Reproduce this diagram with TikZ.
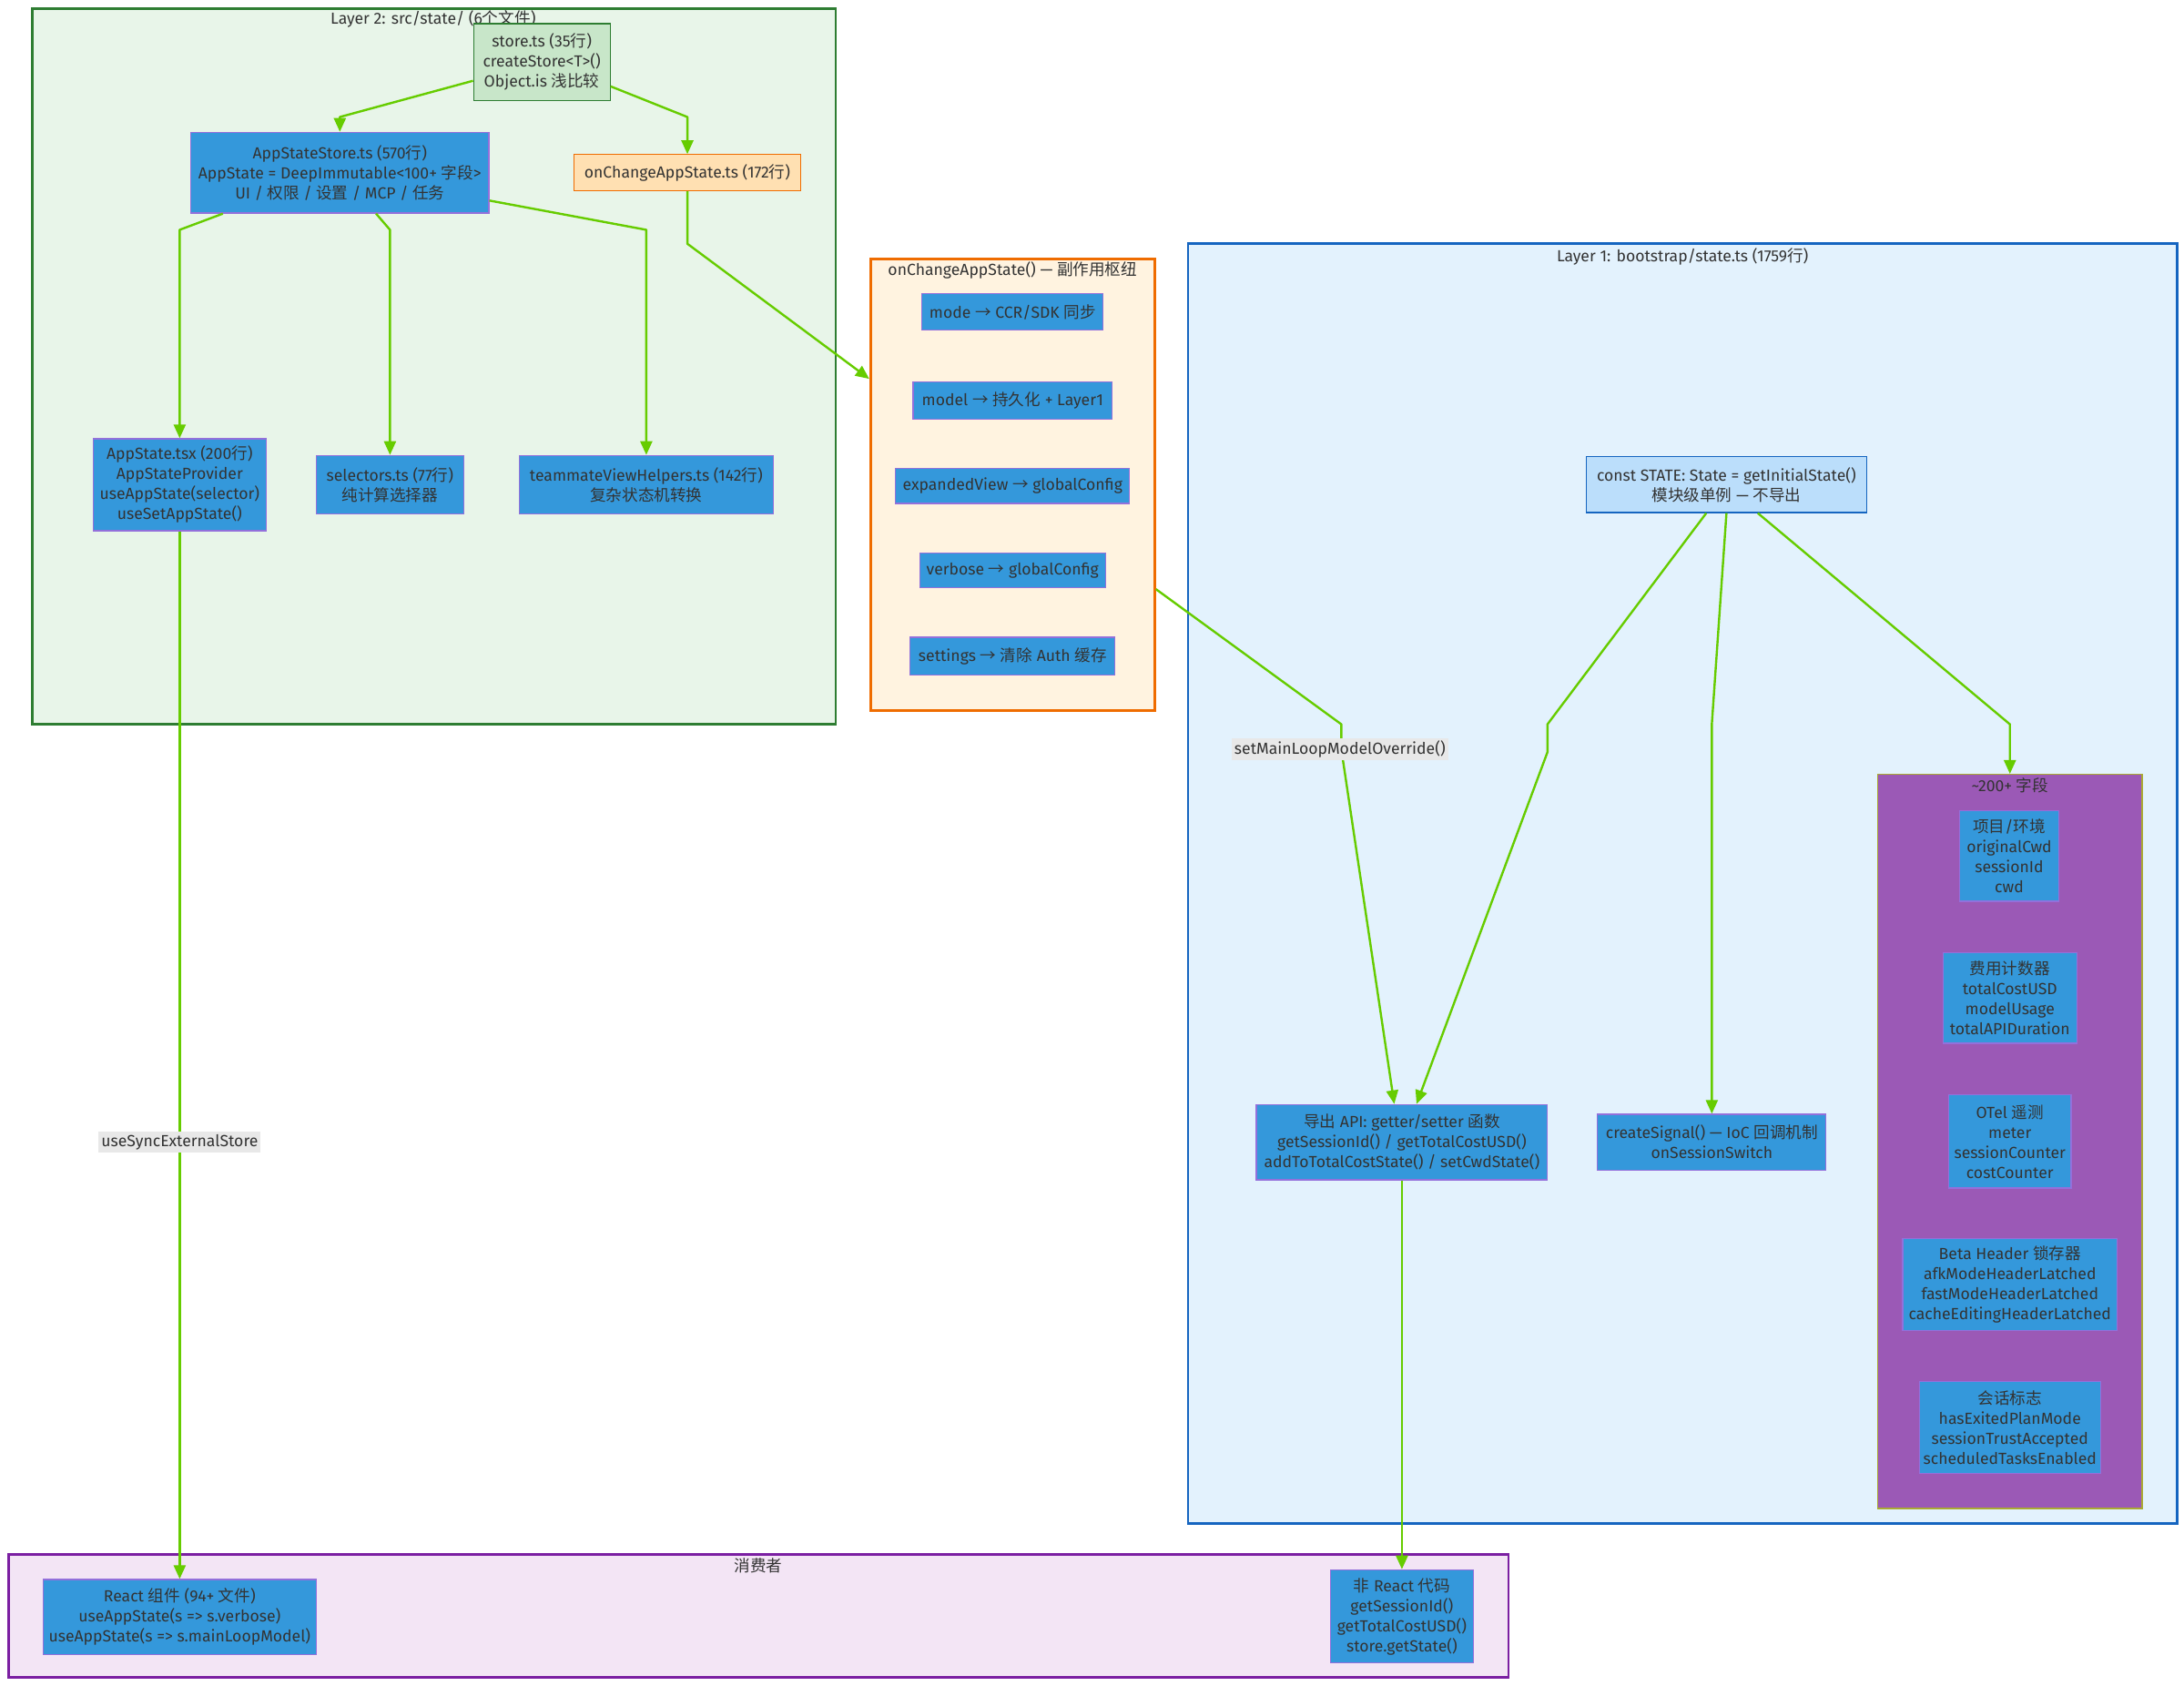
\documentclass[tikz,border=0pt]{standalone}
\usepackage{fontspec}
\setmainfont{Fira Sans}
\newfontfamily\cjk{Noto Sans CJK SC}[Scale=1.0]
\newcommand\zh[1]{{\cjk #1}}
\newcommand\ar{{\cjk →}}
\usetikzlibrary{arrows.meta,calc}
\definecolor{txt}{HTML}{333333}
\definecolor{l2fill}{HTML}{E8F5E9}
\definecolor{l2line}{HTML}{2E7D32}
\definecolor{storefill}{HTML}{C8E6C9}
\definecolor{bluefill}{HTML}{3498DB}
\definecolor{blueline}{HTML}{9370DB}
\definecolor{orfill}{HTML}{FFE0B2}
\definecolor{orline}{HTML}{EF6C00}
\definecolor{ocfill}{HTML}{FFF3E0}
\definecolor{l1fill}{HTML}{E3F2FD}
\definecolor{l1line}{HTML}{1565C0}
\definecolor{statefill}{HTML}{BBDEFB}
\definecolor{fieldfill}{HTML}{9B59B6}
\definecolor{fieldline}{HTML}{AAAA33}
\definecolor{consfill}{HTML}{F3E5F5}
\definecolor{consline}{HTML}{7B1FA2}
\definecolor{edgec}{HTML}{66CC00}
\definecolor{lblbg}{HTML}{E8E8E8}
\tikzset{
  nd/.style={rectangle, draw=blueline, fill=bluefill, line width=0.6pt, text=txt, align=center, inner sep=0pt},
  cl/.style={rectangle, line width=1.4pt, inner sep=0pt},
  ttl/.style={text=txt, inner sep=0pt, align=center},
  edge/.style={draw=edgec, line width=1.2pt, -{Triangle[length=7.5pt,width=6.5pt]}, line join=round},
  lbl/.style={fill=lblbg, text=txt, inner sep=1.5pt}
}
\begin{document}
\begin{tikzpicture}[x=0.765pt,y=-0.765pt, font=\fontsize{8.8}{11}\selectfont]
\fill[white] (0,0) rectangle (1568,1210);
\useasboundingbox (0,0) rectangle (1568,1210);

% clusters
\node[cl, draw=l2line, fill=l2fill, minimum width=577*.765pt, minimum height=514*.765pt] (L2) at (311.5,263) {};
\node[cl, draw=orline, fill=ocfill, minimum width=204*.765pt, minimum height=324*.765pt] (OC) at (727,348) {};
\node[cl, draw=l1line, fill=l1fill, minimum width=710*.765pt, minimum height=919*.765pt] (L1) at (1208,634.5) {};
\node[cl, draw=fieldline, line width=0.7pt, fill=fieldfill, minimum width=190*.765pt, minimum height=527*.765pt] (FLD) at (1443,819.5) {};
\node[cl, draw=consline, fill=consfill, minimum width=1077*.765pt, minimum height=88*.765pt] (CONS) at (544.5,1160) {};

% cluster titles
\node[ttl] (L2t) at (311,14) {Layer 2: src/state/ (6\zh{个文件})};
\node[ttl] (OCt) at (727,194) {onChangeAppState() — \zh{副作用枢纽}};
\node[ttl] (L1t) at (1208,184) {Layer 1: bootstrap/state.ts (1759\zh{行})};
\node[ttl] (FLDt) at (1443,564) {\textasciitilde200+ \zh{字段}};
\node[ttl] (CONSt) at (544.5,1124) {\zh{消费者}};

% Layer 2 nodes
\node[nd, fill=storefill, draw=l2line, minimum width=98*.765pt, minimum height=55*.765pt] (store) at (389,44.5) {store.ts (35\zh{行})\\createStore<T>()\\Object.is \zh{浅比较}};
\node[nd, minimum width=214*.765pt, minimum height=58*.765pt] (aps) at (244,124) {AppStateStore.ts (570\zh{行})\\AppState = DeepImmutable<100+ \zh{字段}>\\UI / \zh{权限} / \zh{设置} / MCP / \zh{任务}};
\node[nd, fill=orfill, draw=orline, minimum width=163*.765pt, minimum height=26*.765pt] (ocs) at (493.5,124) {onChangeAppState.ts (172\zh{行})};
\node[nd, minimum width=124*.765pt, minimum height=66*.765pt] (apt) at (129,348) {AppState.tsx (200\zh{行})\\AppStateProvider\\useAppState(selector)\\useSetAppState()};
\node[nd, minimum width=106*.765pt, minimum height=42*.765pt] (sel) at (280,348) {selectors.ts (77\zh{行})\\\zh{纯计算选择器}};
\node[nd, minimum width=182*.765pt, minimum height=42*.765pt] (tvh) at (464,348) {teammateViewHelpers.ts (142\zh{行})\\\zh{复杂状态机转换}};

% onChange nodes
\node[nd, minimum width=130*.765pt, minimum height=26*.765pt] (mode) at (727,224) {mode \ar{} CCR/SDK \zh{同步}};
\node[nd, minimum width=143*.765pt, minimum height=27*.765pt] (model) at (727,287.5) {model \ar{} \zh{持久化} + Layer1};
\node[nd, minimum width=168*.765pt, minimum height=25*.765pt] (expv) at (727,349) {expandedView \ar{} globalConfig};
\node[nd, minimum width=133.5*.765pt, minimum height=25*.765pt] (verb) at (727,409.5) {verbose \ar{} globalConfig};
\node[nd, minimum width=147*.765pt, minimum height=27*.765pt] (sett) at (727,471) {settings \ar{} \zh{清除} Auth \zh{缓存}};

% Layer 1 nodes
\node[nd, fill=statefill, draw=l1line, minimum width=201*.765pt, minimum height=40*.765pt] (state) at (1239.5,348) {const STATE: State = getInitialState()\\\zh{模块级单例} — \zh{不导出}};
\node[nd, minimum width=209*.765pt, minimum height=54*.765pt] (api) at (1006.5,820) {\zh{导出} API: getter/setter \zh{函数}\\getSessionId() / getTotalCostUSD()\\addToTotalCostState() / setCwdState()};
\node[nd, minimum width=164*.765pt, minimum height=40*.765pt] (sig) at (1229,820) {createSignal() — IoC \zh{回调机制}\\onSessionSwitch};

% fields
\node[nd, minimum width=71*.765pt, minimum height=65*.765pt] (f1) at (1442.5,614.5) {\zh{项目}/\zh{环境}\\originalCwd\\sessionId\\cwd};
\node[nd, minimum width=96*.765pt, minimum height=65*.765pt] (f2) at (1443,716.5) {\zh{费用计数器}\\totalCostUSD\\modelUsage\\totalAPIDuration};
\node[nd, minimum width=88*.765pt, minimum height=67*.765pt] (f3) at (1443,819.5) {OTel \zh{遥测}\\meter\\sessionCounter\\costCounter};
\node[nd, minimum width=154*.765pt, minimum height=66*.765pt] (f4) at (1443,922) {Beta Header \zh{锁存器}\\afkModeHeaderLatched\\fastModeHeaderLatched\\cacheEditingHeaderLatched};
\node[nd, minimum width=130*.765pt, minimum height=66*.765pt] (f5) at (1443,1025) {\zh{会话标志}\\hasExitedPlanMode\\sessionTrustAccepted\\scheduledTasksEnabled};

% consumers
\node[nd, minimum width=196*.765pt, minimum height=54*.765pt] (react) at (129,1161) {React \zh{组件} (94+ \zh{文件})\\useAppState(s => s.verbose)\\useAppState(s => s.mainLoopModel)};
\node[nd, minimum width=103*.765pt, minimum height=67*.765pt] (nonr) at (1006.5,1160.5) {\zh{非} React \zh{代码}\\getSessionId()\\getTotalCostUSD()\\store.getState()};

% edges
\draw[edge] ($(store.west)+(0,13.5)$) -- (244,84) -- (aps.north);
\draw[edge] ($(store.east)+(0,17.5)$) -- (493.5,84) -- (ocs.north);
\draw[edge] ($(aps.south)+(-84,0)$) -- (129,165) -- (apt.north);
\draw[edge] ($(aps.south)+(26,0)$) -- (280,165) -- (sel.north);
\draw[edge] ($(aps.east)+(0,20)$) -- (464,165) -- (tvh.north);
\draw[edge] (ocs.south) -- (493.5,175) -- (OC.west |- 0,272);
\draw[edge] (OC.east |- 0,423) -- (963,520) -- (963,538) -- ($(api.north)+(-5.5,0)$);
\node[lbl] (lab1) at (962,538) {setMainLoopModelOverride()};
\draw[edge] ($(state.south)+(-14.5,0)$) -- (1111,520) -- (1111,540) -- ($(api.north)+(10.5,0)$);
\draw[edge] (state.south) -- (1229,520) -- (sig.north);
\draw[edge] ($(state.south)+(22.5,0)$) -- (1443,520) -- (FLD.north);
\draw[edge] (apt.south) -- (react.north);
\node[lbl] (lab2) at (129,820) {useSyncExternalStore};
\draw[edge] (api.south) -- (nonr.north);
\end{tikzpicture}
\end{document}
